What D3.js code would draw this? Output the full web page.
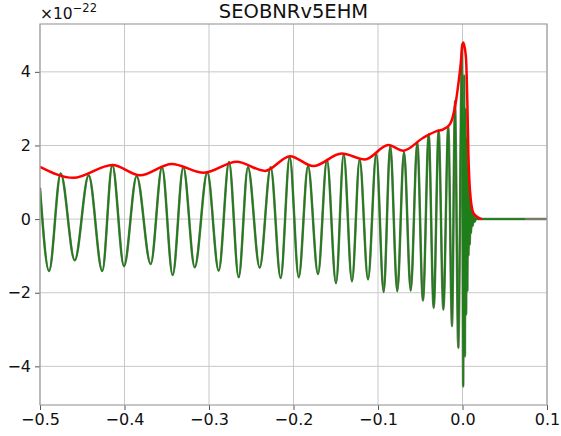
<!DOCTYPE html>
<html>
<head>
<meta charset="utf-8">
<script src="https://cdn.jsdelivr.net/npm/d3@7"></script>
<style>
    body { margin: 0; background: #fff; }
    text { font-family: "DejaVu Sans", sans-serif; }
</style>
</head>
<body>
<div id="chart"></div>
<script>
// strain extrema (units of 1e-22), time in s
var hTimes = [-0.5, -0.4893, -0.4755, -0.4589, -0.4424, -0.4263, -0.4144, -0.4006, -0.3856, -0.3690,
    -0.3556, -0.3430, -0.3304, -0.3169, -0.3020, -0.2885, -0.2763, -0.2649, -0.2539, -0.2400,
    -0.2270, -0.2152, -0.2045, -0.1938, -0.1828, -0.1710, -0.1604, -0.1497, -0.1406, -0.1308,
    -0.1217, -0.1118, -0.1020, -0.0933, -0.0855, -0.0772, -0.0692, -0.0613, -0.0535, -0.0468,
    -0.0400, -0.0341, -0.0282, -0.0227, -0.0168, -0.0124, -0.0089, -0.0050, -0.0005, 0.0008,
    0.0020, 0.0028, 0.0036, 0.0043, 0.0050, 0.0057, 0.0064, 0.0071, 0.0078, 0.0086,
    0.0094, 0.0102, 0.0111, 0.0121, 0.0132, 0.0145, 0.0160, 0.0180, 0.0740, 0.1000];
var hValues = [0.85, -1.41, 1.24, -1.12, 1.19, -1.41, 1.47, -1.28, 1.17, -1.22,
    1.41, -1.52, 1.41, -1.31, 1.27, -1.40, 1.55, -1.58, 1.41, -1.32,
    1.41, -1.60, 1.69, -1.58, 1.44, -1.49, 1.61, -1.74, 1.76, -1.69,
    1.62, -1.64, 1.78, -1.98, 1.99, -1.96, 1.83, -1.94, 2.08, -2.21,
    2.30, -2.41, 2.41, -2.46, 2.53, -2.91, 3.21, -3.50, 4.75, -4.55,
    3.90, -3.73, 3.00, -2.60, 2.20, -1.96, 1.40, -1.00, 0.80, -0.70,
    0.50, -0.38, 0.25, -0.18, 0.10, -0.07, 0.03, 0, 0, 0];

// amplitude envelope
var ampTimes = [-0.5, -0.4606, -0.4142, -0.3817, -0.3441, -0.3059, -0.2672, -0.2337, -0.2041, -0.1766,
    -0.1430, -0.1154, -0.0878, -0.0701, -0.0464, -0.0306, -0.0227, -0.0148, -0.0077, -0.0030,
    0.0009, 0.0041, 0.0057, 0.0069, 0.0089, 0.0128, 0.0187, 0.0230];
var ampValues = [1.42, 1.12, 1.47, 1.19, 1.50, 1.26, 1.56, 1.31, 1.71, 1.44,
    1.78, 1.62, 2.01, 1.86, 2.21, 2.39, 2.44, 2.58, 3.21, 4.03,
    4.80, 4.39, 3.21, 1.85, 0.76, 0.17, 0.04, 0];

var modelEnd = 0.074;
var xTicks = [-0.5, -0.4, -0.3, -0.2, -0.1, 0.0, 0.1];
var yTicks = [-4, -2, 0, 2, 4];

var margin = {top: 24, right: 14, bottom: 31, left: 40};
var width = 561 - margin.left - margin.right,
    height = 436 - margin.top - margin.bottom;

var x = d3.scaleLinear().domain([-0.5, 0.1]).range([0, width]);
var y = d3.scaleLinear().domain([-5.05, 5.3]).range([height, 0]);

var svg = d3.select("#chart")
    .append("svg")
    .attr("width", 561)
    .attr("height", 436);

var g = svg.append("g")
    .attr("transform", "translate(" + margin.left + "," + margin.top + ")");

g.append("defs").append("clipPath")
    .attr("id", "clip")
    .append("rect")
    .attr("width", width)
    .attr("height", height);

// grid
g.selectAll(".vgrid")
    .data(xTicks)
    .enter()
    .append("line")
    .attr("class", "vgrid")
    .attr("x1", d => x(d)).attr("x2", d => x(d))
    .attr("y1", 0).attr("y2", height)
    .attr("stroke", "#c8c8c8")
    .attr("stroke-width", 1);

g.selectAll(".hgrid")
    .data(yTicks)
    .enter()
    .append("line")
    .attr("class", "hgrid")
    .attr("x1", 0).attr("x2", width)
    .attr("y1", d => y(d)).attr("y2", d => y(d))
    .attr("stroke", "#c8c8c8")
    .attr("stroke-width", 1);

var hData = hTimes.map((t, i) => ({t: t, v: hValues[i]}));
var ampData = ampTimes.map((t, i) => ({t: t, v: ampValues[i]}));

var line = d3.line()
    .x(d => x(d.t))
    .y(d => y(d.v))
    .curve(d3.curveMonotoneX);

var plot = g.append("g").attr("clip-path", "url(#clip)");

plot.append("path")
    .datum(hData)
    .attr("d", line)
    .attr("fill", "none")
    .attr("stroke", "#7a7a6a")
    .attr("stroke-width", 2.5);

plot.append("path")
    .datum(hData.filter(d => d.t <= modelEnd))
    .attr("d", line)
    .attr("fill", "none")
    .attr("stroke", "green")
    .attr("stroke-opacity", 0.75)
    .attr("stroke-width", 1.8);

plot.append("path")
    .datum(ampData)
    .attr("d", line)
    .attr("fill", "none")
    .attr("stroke", "red")
    .attr("stroke-width", 2.5);

// axes
var xAxis = d3.axisBottom(x).tickValues(xTicks).tickFormat(d3.format(".1f")).tickSize(5).tickPadding(4);
var yAxis = d3.axisLeft(y).tickValues(yTicks).tickFormat(d3.format("d")).tickSize(5).tickPadding(4);

var gx = g.append("g")
    .attr("transform", "translate(0," + height + ")")
    .call(xAxis);
var gy = g.append("g").call(yAxis);

[gx, gy].forEach(a => {
    a.select(".domain").remove();
    a.selectAll(".tick line").attr("stroke", "#555").attr("stroke-width", 1);
    a.selectAll(".tick text")
        .attr("fill", "#111")
        .style("font-size", "16px")
        .style("font-family", "DejaVu Sans, sans-serif");
});

g.append("rect")
    .attr("width", width)
    .attr("height", height)
    .attr("fill", "none")
    .attr("stroke", "#a0a0a0")
    .attr("stroke-width", 1.2);

// offset label and title
var off = svg.append("text")
    .attr("x", 40)
    .attr("y", 19)
    .style("font-size", "15.5px")
    .attr("fill", "#111")
    .text("×10");
off.append("tspan")
    .attr("dy", -7)
    .style("font-size", "11.5px")
    .text("−22");

svg.append("text")
    .attr("x", margin.left + width / 2)
    .attr("y", 18)
    .attr("text-anchor", "middle")
    .style("font-size", "19.5px")
    .attr("fill", "#111")
    .text("SEOBNRv5EHM");
</script>
</body>
</html>
